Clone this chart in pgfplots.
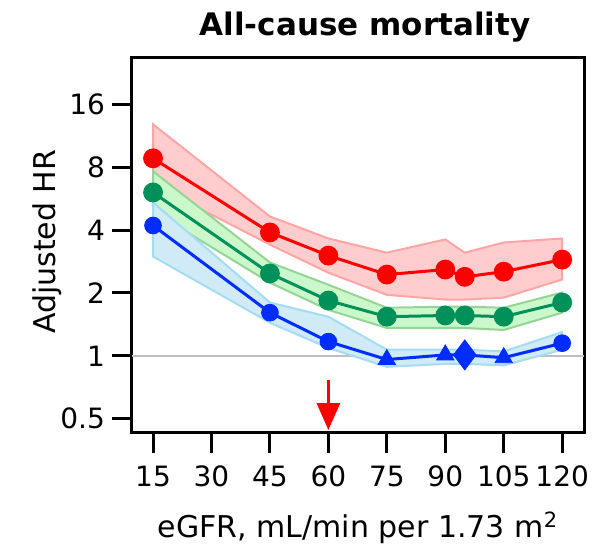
\documentclass[border=0pt]{standalone}
\usepackage{fontspec}
\setmainfont{DejaVu Sans}
\usepackage{pgfplots}
\pgfplotsset{compat=1.18}
\usetikzlibrary{arrows.meta}

\definecolor{redline}{RGB}{255,0,0}
\definecolor{redfill}{RGB}{255,205,205}
\definecolor{rededge}{RGB}{255,165,165}
\definecolor{grnline}{RGB}{0,145,90}
\definecolor{grnfill}{RGB}{202,248,202}
\definecolor{grnedge}{RGB}{150,212,150}
\definecolor{bluline}{RGB}{0,45,255}
\definecolor{blufill}{RGB}{208,234,246}
\definecolor{bluedge}{RGB}{165,220,245}
\definecolor{oneline}{RGB}{190,190,190}

\begin{document}
\begin{tikzpicture}
\begin{axis}[
    name=ax,
    scale only axis,
    width=226pt, height=187.5pt,
    xmin=9.6, xmax=125.6,
    ymode=log, log basis y=2,
    ymin=0.427, ymax=26.7,
    xtick={15,30,45,60,75,90,105,120},
    ytick={0.5,1,2,4,8,16},
    yticklabels={0.5,1,2,4,8,16},
    xtick pos=bottom, ytick pos=left,
    tick align=outside,
    major tick length=10pt,
    axis line style={line width=1.5pt},
    every tick/.style={black, line width=1.5pt},
    /pgf/number format/assume math mode=true,
    tick label style={font=\fontsize{14}{16}\selectfont},
    xticklabel style={yshift=-3pt},
    title={\textbf{All-cause mortality}},
    every axis title/.style={at={(axis description cs:0.5,1)}, anchor=base,
        yshift=11pt, xshift=3.5pt, font=\fontsize{15.5}{18}\selectfont},
    xlabel={eGFR, mL/min per 1.73 m\textsuperscript{2}},
    every axis x label/.style={at={(axis description cs:0.5,0)}, anchor=base,
        yshift=-52.5pt, font=\fontsize{15}{18}\selectfont},
    ylabel={Adjusted HR},
    every axis y label/.style={at={(axis description cs:-0.17,0.51)}, rotate=90,
        anchor=base, font=\fontsize{15}{18}\selectfont},
]
% reference line at HR = 1
\addplot[oneline, line width=1pt] coordinates {(9.6,1) (125.6,1)};

% confidence bands
\addplot[fill=redfill, draw=rededge, line width=1pt] coordinates {
    (15,12.85) (45,4.65) (60,3.65) (75,3.12) (90,3.61) (95,3.12) (105,3.49) (120,3.65)
    (120,2.32) (105,1.90) (95,1.86) (90,1.86) (75,1.96) (60,2.50) (45,3.41) (15,6.6)} -- cycle;
\addplot[fill=grnfill, draw=grnedge, line width=1pt] coordinates {
    (15,7.65) (45,2.80) (60,2.19) (75,1.70) (90,1.72) (95,1.72) (105,1.70) (120,2.01)
    (120,1.61) (105,1.33) (95,1.36) (90,1.36) (75,1.36) (60,1.66) (45,2.24) (15,4.91)} -- cycle;
\addplot[fill=blufill, draw=bluedge, line width=1pt] coordinates {
    (15,5.43) (45,1.80) (60,1.54) (75,1.07) (90,1.07) (95,1.07) (105,1.05) (120,1.30)
    (120,1.07) (105,0.90) (95,0.915) (90,0.915) (75,0.886) (60,1.09) (45,1.44) (15,2.99)} -- cycle;

% point estimates
\addplot[redline, line width=1.5pt, mark=*, mark size=4.2pt] coordinates {
    (15,8.83) (45,3.90) (60,3.02) (75,2.45) (90,2.59) (95,2.39) (105,2.53) (120,2.89)};
\addplot[grnline, line width=1.5pt, mark=*, mark size=4.2pt] coordinates {
    (15,6.06) (45,2.48) (60,1.84) (75,1.54) (90,1.56) (95,1.56) (105,1.54) (120,1.80)};
\addplot[bluline, line width=1.5pt] coordinates {
    (15,4.21) (45,1.61) (60,1.17) (75,0.96) (90,1.01) (95,1.01) (105,0.98) (120,1.15)};
\addplot[bluline, only marks, mark=*, mark size=4.2pt] coordinates {
    (15,4.21) (45,1.61) (60,1.17) (120,1.15)};
\addplot[bluline, only marks, mark=triangle*, mark size=5pt] coordinates {
    (75,0.96) (90,1.01) (105,0.98)};
\addplot[bluline, only marks, mark=diamond*, mark size=7.5pt] coordinates {
    (95,1.01)};

% threshold arrow
\draw[redline, line width=1.5pt, -{Triangle[length=13.5pt,width=11.5pt]}]
    (axis cs:60,0.767) -- (axis cs:60,0.441);
\end{axis}
\pgfresetboundingbox
\path[use as bounding box] ([xshift=-66pt,yshift=-56pt]ax.south west)
    rectangle ([xshift=13.5pt,yshift=29pt]ax.north east);
\end{tikzpicture}
\end{document}
